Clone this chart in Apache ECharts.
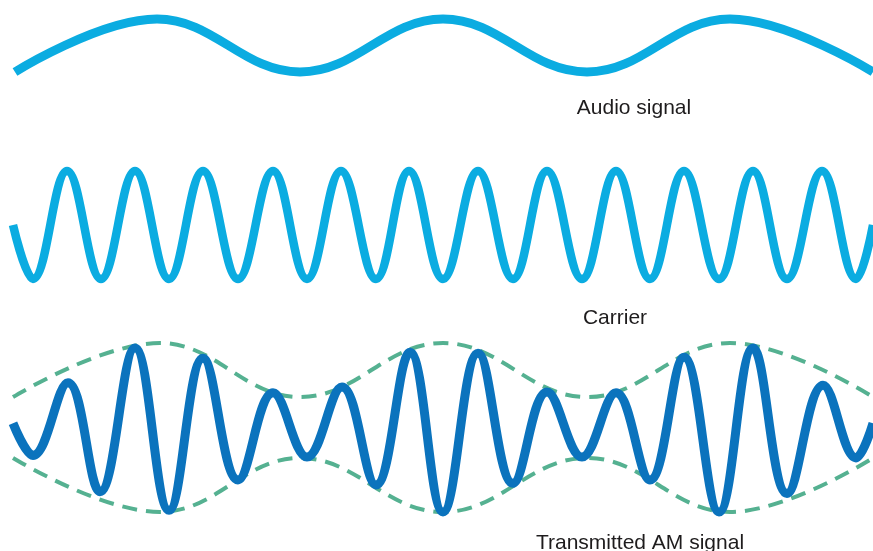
<!DOCTYPE html>
<html>
<head>
<meta charset="utf-8">
<script src="https://cdn.jsdelivr.net/npm/echarts/dist/echarts.min.js"></script>
<style>
html,body{margin:0;padding:0;background:#fff;}
#chart{width:873px;height:551px;}
</style>
</head>
<body>
<div id="chart"></div>
<script>
// Time positions (t) and amplitudes (extrema of each wave)
var audioT   = [2, 144, 287, 430, 574, 717, 860];
var audioAmp = [-1, 1, -1, 1, -1, 1, -1];

var carrierT   = [0, 20, 54, 88, 122, 156, 190, 225, 260, 294, 328, 363, 396, 430, 465, 500, 534, 569, 603, 637, 671, 706, 740, 774, 809, 843, 860];
var carrierAmp = [0, -1, 1, -1, 1, -1, 1, -1, 1, -1, 1, -1, 1, -1, 1, -1, 1, -1, 1, -1, 1, -1, 1, -1, 1, -1, 0];

var amT   = [0, 20, 55, 87, 122, 156, 190, 225, 260, 294, 329, 363, 397, 430, 465, 500, 534, 569, 603, 637, 671, 706, 740, 774, 810, 843, 860];
var amAmp = [0.05, -0.33, 0.53, -0.76, 0.94, -0.98, 0.82, -0.62, 0.41, -0.35, 0.48, -0.68, 0.89, -1.0, 0.88, -0.66, 0.42, -0.35, 0.41, -0.62, 0.83, -1.0, 0.94, -0.78, 0.50, -0.36, 0.05];

var envT     = [0, 147, 287, 430, 574, 717, 860];
var envUpper = [0.36, 1.0, 0.36, 1.0, 0.36, 1.0, 0.36];
var envLower = [-0.36, -1.0, -0.36, -1.0, -0.36, -1.0, -0.36];

var labels = ['Audio signal', 'Carrier', 'Transmitted AM signal'];

function pairs(t, v) { return t.map(function (x, i) { return [x, v[i]]; }); }

var chart = echarts.init(document.getElementById('chart'), null, {renderer: 'canvas'});

var grids = [
  {left: 13, right: 0, top: 19, height: 53},
  {left: 13, right: 0, top: 171, height: 108},
  {left: 13, right: 0, top: 343, height: 169}
];
var xAxes = [0, 1, 2].map(function (i) {
  return {type: 'value', gridIndex: i, min: 0, max: 860, show: false};
});
var yAxes = [0, 1, 2].map(function (i) {
  return {type: 'value', gridIndex: i, min: -1, max: 1, show: false};
});

var SM = 0.4;
var lightBlue = '#0BACE1';
var darkBlue = '#0B73BD';
var green = '#55B191';
var textFont = '21px "Liberation Sans", Arial, sans-serif';

chart.setOption({
  animation: false,
  backgroundColor: '#ffffff',
  grid: grids,
  xAxis: xAxes,
  yAxis: yAxes,
  series: [
    {type: 'line', xAxisIndex: 0, yAxisIndex: 0, data: pairs(audioT, audioAmp), smooth: SM, symbol: 'none', clip: false,
     lineStyle: {color: lightBlue, width: 9}},
    {type: 'line', xAxisIndex: 1, yAxisIndex: 1, data: pairs(carrierT, carrierAmp), smooth: SM, symbol: 'none', clip: false,
     lineStyle: {color: lightBlue, width: 8.5}},
    {type: 'line', xAxisIndex: 2, yAxisIndex: 2, data: pairs(envT, envUpper), smooth: SM, symbol: 'none', clip: false, z: 1,
     lineStyle: {color: green, width: 4, type: [15, 9]}},
    {type: 'line', xAxisIndex: 2, yAxisIndex: 2, data: pairs(envT, envLower), smooth: SM, symbol: 'none', clip: false, z: 1,
     lineStyle: {color: green, width: 4, type: [15, 9]}},
    {type: 'line', xAxisIndex: 2, yAxisIndex: 2, data: pairs(amT, amAmp), smooth: SM, symbol: 'none', clip: false, z: 3,
     lineStyle: {color: darkBlue, width: 9}}
  ],
  graphic: [
    {type: 'text', x: 634, y: 108, style: {text: labels[0], fill: '#1e1c1d', font: textFont, textAlign: 'center', textVerticalAlign: 'middle'}},
    {type: 'text', x: 615, y: 318, style: {text: labels[1], fill: '#1e1c1d', font: textFont, textAlign: 'center', textVerticalAlign: 'middle'}},
    {type: 'text', x: 640, y: 543, style: {text: labels[2], fill: '#1e1c1d', font: textFont, textAlign: 'center', textVerticalAlign: 'middle'}}
  ]
});
</script>
</body>
</html>
